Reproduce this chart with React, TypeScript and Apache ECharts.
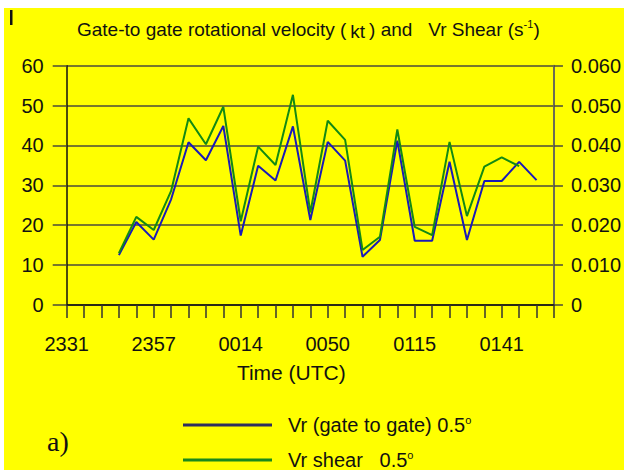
import React, { useEffect, useRef } from "react";
import * as echarts from "echarts";

const FONT = '"Liberation Sans", Arial, sans-serif';

const categories: string[] = [
  "2331", "", "", "", "", "2357", "", "", "", "", "0014", "", "", "", "",
  "0050", "", "", "", "", "0115", "", "", "", "", "0141", "", "", "",
];

const gateToGate: (number | null)[] = [
  null, null, null, 12.5, 20.8, 16.4, 26.5, 40.8, 36.3, 44.9, 17.4, 34.9, 31.2, 44.8,
  21.3, 40.9, 36.2, 12.1, 16.3, 41.2, 16.1, 16.1, 35.9, 16.3, 31.1, 31.1, 35.9, 31.3, null,
];

const shear: (number | null)[] = [
  null, null, null, 0.013, 0.0221, 0.0188, 0.0286, 0.0468, 0.0403, 0.0497, 0.021, 0.0397,
  0.0351, 0.0527, 0.0232, 0.0462, 0.0414, 0.0138, 0.0171, 0.044, 0.0196, 0.0175, 0.0409,
  0.0223, 0.0347, 0.037, 0.0348, null, null,
];

const leftTicks = { min: 0, max: 60, interval: 10 };
const rightTicks = { min: 0, max: 0.06, interval: 0.01 };

const seriesNames = ["Vr (gate to gate) 0.5°", "Vr shear 0.5°"];
const legendLabels: Record<string, string> = {
  "Vr (gate to gate) 0.5°": "{t|Vr (gate to gate) 0.5}{d|o}",
  "Vr shear 0.5°": "{t|Vr shear   0.5}{d|o}",
};

const legendRich = {
  t: { fontSize: 20, color: "#111", fontFamily: FONT, lineHeight: 22, padding: [0, 0, 0, 11] },
  d: { fontSize: 11, color: "#111", fontFamily: FONT, lineHeight: 11, verticalAlign: "top" },
};

function legendFor(name: string, top: number) {
  return {
    data: [name],
    orient: "vertical",
    left: 183,
    top,
    padding: 0,
    itemWidth: 89,
    itemHeight: 3,
    icon: "rect",
    selectedMode: false,
    formatter: (n: string) => legendLabels[n] || n,
    textStyle: { rich: legendRich },
  };
}

export default function App() {
  const ref = useRef<HTMLDivElement>(null);
  useEffect(() => {
    if (!ref.current) return;
    const chart = echarts.init(ref.current, null, { renderer: "svg" });
    chart.setOption({
      animation: false,
      backgroundColor: "#ffff00",
      textStyle: { fontFamily: FONT },
      title: {
        left: 72,
        top: 13,
        text: "{a|Gate-to gate rotational velocity }{a|(}{k|kt}{a|)}{a| and   Vr Shear }{a|(s}{s|-1}{a|)}",
        textStyle: {
          fontWeight: "normal",
          rich: {
            a: { fontSize: 19, fontWeight: "normal", color: "#111", fontFamily: FONT, lineHeight: 22 },
            k: { fontSize: 19, fontWeight: "normal", color: "#111", fontFamily: FONT, lineHeight: 22, padding: [4, 4, 0, 4] },
            s: { fontSize: 11, fontWeight: "normal", color: "#111", fontFamily: FONT, lineHeight: 12, verticalAlign: "top" },
          },
        },
      },
      graphic: [
        { type: "rect", shape: { x: 0, y: 0, width: 624, height: 8 }, style: { fill: "#ffffff" }, silent: true },
        { type: "rect", shape: { x: 0, y: 0, width: 4, height: 470 }, style: { fill: "#ffffff" }, silent: true },
        { type: "rect", shape: { x: 10, y: 10, width: 2.5, height: 15 }, style: { fill: "#111" }, silent: true },
        {
          type: "text",
          left: 47,
          top: 427,
          style: { text: "a)", font: '28px "Liberation Serif", "Times New Roman", serif', fill: "#111" },
        },
      ],
      legend: [legendFor(seriesNames[0], 414), legendFor(seriesNames[1], 449)],
      grid: { left: 66.7, right: 68, top: 65.7, bottom: 165, containLabel: false },
      xAxis: {
        type: "category",
        data: categories,
        boundaryGap: false,
        axisLine: { lineStyle: { color: "#111", width: 1.5 } },
        axisTick: { interval: 0, length: 13, lineStyle: { color: "#333", width: 1.5 } },
        axisLabel: { interval: 0, margin: 29, fontSize: 20, color: "#111", fontFamily: FONT },
        name: "Time (UTC)",
        nameLocation: "middle",
        nameGap: 57,
        nameTextStyle: { fontSize: 21, color: "#111", fontFamily: FONT, padding: [0, 38, 0, 0] },
      },
      yAxis: [
        {
          type: "value",
          position: "left",
          ...leftTicks,
          axisLine: { show: true, lineStyle: { color: "#111", width: 1.5 } },
          axisTick: { show: true, length: 14, lineStyle: { color: "#4a4a3a", width: 1.5 } },
          axisLabel: { margin: 23, fontSize: 20, color: "#111", fontFamily: FONT },
          splitLine: { show: true, lineStyle: { color: "#4a4a3a", width: 1.5 } },
        },
        {
          type: "value",
          position: "right",
          ...rightTicks,
          axisLine: { show: true, lineStyle: { color: "#6b6b55", width: 2 } },
          axisTick: { show: true, length: 9, lineStyle: { color: "#4a4a3a", width: 1.5 } },
          axisLabel: {
            margin: 17,
            fontSize: 20,
            color: "#111",
            fontFamily: FONT,
            formatter: (v: number) => (v === 0 ? "0" : v.toFixed(3)),
          },
          splitLine: { show: false },
        },
      ],
      series: [
        {
          name: seriesNames[0],
          type: "line",
          yAxisIndex: 0,
          data: gateToGate,
          showSymbol: false,
          symbol: "none",
          lineStyle: { color: "#1a1ab8", width: 2 },
          itemStyle: { color: "#2e2e5e" },
        },
        {
          name: seriesNames[1],
          type: "line",
          yAxisIndex: 1,
          data: shear,
          showSymbol: false,
          symbol: "none",
          lineStyle: { color: "#138a13", width: 2 },
          itemStyle: { color: "#1a8a1a" },
        },
      ],
    });
    return () => chart.dispose();
  }, []);
  return (
    <div
      ref={ref}
      style={{ position: "absolute", left: 0, top: 0, width: 624, height: 470 }}
    />
  );
}
